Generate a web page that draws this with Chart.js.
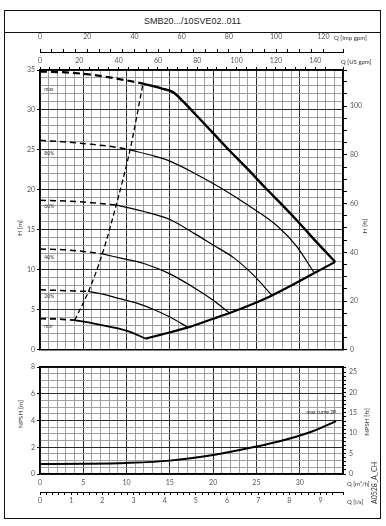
<!DOCTYPE html>
<html>
<head>
<meta charset="utf-8">
<script src="https://cdn.jsdelivr.net/npm/chart.js@4.4.0/dist/chart.umd.min.js"></script>
<style>
  html, body { margin: 0; padding: 0; background: #fff; }
  #wrap { position: relative; width: 386px; height: 526px; overflow: hidden; font-family: "Liberation Sans", Arial, sans-serif; }
  #frame { position: absolute; left: 4px; top: 10px; width: 377px; height: 509px; border: 1px solid #111; box-sizing: border-box; }
  #title { position: absolute; left: 4px; top: 10px; width: 377px; height: 23px; border-bottom: 1px solid #111; box-sizing: border-box;
           text-align: center; font-size: 9px; line-height: 22px; color: #222; }
  canvas { position: absolute; left: 0; }
  #cMain { top: 33px; }
  #cNpsh { top: 358px; }
  .t { position: absolute; white-space: nowrap; color: #333; line-height: 1; font-family: Lato, "Liberation Sans", sans-serif; }
  .r { transform: translate(-50%, -50%) rotate(-90deg); }
  .l { transform: translateY(-50%); }
</style>
</head>
<body>
<div id="wrap">
  <div id="frame"></div>
  <div id="title">SMB20.../10SVE02..011</div>
  <canvas id="cMain" width="386" height="324"></canvas>
  <canvas id="cNpsh" width="386" height="160"></canvas>

  <div class="t l" style="left:334px;top:38px;font-size:6px">Q [Imp gpm]</div>
  <div class="t l" style="left:341px;top:62px;font-size:6px">Q [US gpm]</div>
  <div class="t r" style="left:20px;top:228px;font-size:6.5px">H [m]</div>
  <div class="t r" style="left:365px;top:226px;font-size:6.5px">H [ft]</div>
  <div class="t r" style="left:21px;top:414px;font-size:6.5px">NPSH [m]</div>
  <div class="t r" style="left:367px;top:422px;font-size:6.5px">NPSH [ft]</div>
  <div class="t l" style="left:347px;top:484px;font-size:6px">Q [m³/h]</div>
  <div class="t l" style="left:347px;top:502px;font-size:6px">Q [l/s]</div>
  <div class="t r" style="left:374px;top:483px;font-size:7px">A0528_A_CH</div>
</div>

<script>
// Q in m3/h, H in m
const maxDashQ = [0, 3, 6, 9, 11.9];
const maxDashH = [34.8, 34.7, 34.4, 33.9, 33.3];
const maxQ = [11.9, 14, 15.4, 16.5, 18, 20, 22, 24, 26, 28, 30, 32, 34.1];
const maxH = [33.3, 32.7, 32.2, 31.1, 29.4, 27.1, 24.8, 22.6, 20.3, 18.1, 15.8, 13.4, 11.0];

const p80DashQ = [0, 3, 6, 9, 10.4];
const p80DashH = [26.2, 26.0, 25.7, 25.3, 25.0];
const p80Q = [10.4, 13, 15, 18, 20.8, 24, 27.5, 29.6, 31.7];
const p80H = [25.0, 24.3, 23.6, 22.0, 20.3, 18.1, 15.4, 13.0, 9.6];

const p60DashQ = [0, 3, 6, 8.8];
const p60DashH = [18.7, 18.6, 18.4, 18.1];
const p60Q = [8.8, 12, 15, 17.9, 20, 22.4, 24.6, 26.8];
const p60H = [18.1, 17.3, 16.3, 14.5, 13.1, 11.5, 9.4, 6.8];

const p40DashQ = [0, 3, 5, 7.2];
const p40DashH = [12.6, 12.5, 12.3, 12.0];
const p40Q = [7.2, 9.2, 12, 15, 17.9, 20, 21.9];
const p40H = [12.0, 11.5, 10.8, 9.5, 7.7, 6.2, 4.6];

const p20DashQ = [0, 3, 5.6];
const p20DashH = [7.5, 7.4, 7.3];
const p20Q = [5.6, 7.5, 9.2, 11, 13, 15, 17.1];
const p20H = [7.3, 6.9, 6.4, 5.9, 5.1, 4.1, 2.8];

const minDashQ = [0, 2, 4.0];
const minDashH = [3.9, 3.85, 3.7];
const minQ = [4.0, 6, 8, 10.4, 12.2];
const minH = [3.7, 3.35, 2.9, 2.25, 1.4];

// lower limit line and the dashed limit through the curve ends
const lowQ = [12.2, 14, 17.1, 19.5, 21.9, 24.5, 26.8, 29.3, 31.7, 34.1];
const lowH = [1.4, 1.9, 2.8, 3.7, 4.6, 5.7, 6.8, 8.2, 9.6, 11.0];
const limQ = [4.0, 5.6, 7.2, 8.8, 10.4, 11.9];
const limH = [3.7, 7.3, 12.0, 18.1, 25.0, 33.3];

// NPSH, m
const npshQ = [0, 5, 10, 15, 20, 25, 28, 31.5, 34.2];
const npshM = [0.75, 0.77, 0.83, 1.0, 1.42, 2.05, 2.5, 3.2, 3.95];

const curveNames = ['max', '80%', '60%', '40%', '20%', 'min'];
const curveNameH = [32.6, 24.6, 17.9, 11.5, 6.7, 2.9];

const qMax = 35, hMax = 35, npshMax = 8;
const impPerM3h = 3.6662, usPerM3h = 4.4029, lsPerM3h = 1 / 3.6, ftPerM = 3.2808;

const tickFont = { family: 'Lato, "Liberation Sans", sans-serif', size: 7 };
const tickColor = '#555';

function pts(q, h) { return q.map((v, i) => ({ x: v, y: h[i] })); }
function curve(q, h, w, dash, xId, yId) {
  return {
    data: pts(q, h), showLine: true, borderColor: '#000', backgroundColor: '#000',
    borderWidth: w, borderDash: dash || [], pointRadius: 0, pointHoverRadius: 0,
    cubicInterpolationMode: 'monotone', fill: false, xAxisID: xId, yAxisID: yId
  };
}
function every(v, n) { const k = v / n; return Math.abs(k - Math.round(k)) < 1e-6; }
function fix(size) { return s => { if (s.isHorizontal()) s.height = size; else s.width = size; }; }
const gridCol = n => c => (c.tick && every(c.tick.value, n)) ? '#2a2a2a' : '#a0a0a0';

const curveLabels = {
  id: 'curveLabels',
  afterDatasetsDraw(chart) {
    const ctx = chart.ctx, x = chart.scales.q, y = chart.scales.h;
    ctx.save();
    ctx.font = '5px Lato, "Liberation Sans", sans-serif';
    ctx.fillStyle = '#333';
    ctx.textBaseline = 'middle';
    curveNames.forEach((n, i) => ctx.fillText(n, x.getPixelForValue(0.5), y.getPixelForValue(curveNameH[i])));
    ctx.restore();
  }
};

new Chart(document.getElementById('cMain'), {
  type: 'scatter',
  data: {
    datasets: [
      curve(maxDashQ, maxDashH, 2.2, [7, 4], 'q', 'h'),
      curve(maxQ, maxH, 2.4, null, 'q', 'h'),
      curve(p80DashQ, p80DashH, 1.5, [6, 4], 'q', 'h'),
      curve(p80Q, p80H, 1.2, null, 'q', 'h'),
      curve(p60DashQ, p60DashH, 1.5, [6, 4], 'q', 'h'),
      curve(p60Q, p60H, 1.2, null, 'q', 'h'),
      curve(p40DashQ, p40DashH, 1.5, [6, 4], 'q', 'h'),
      curve(p40Q, p40H, 1.2, null, 'q', 'h'),
      curve(p20DashQ, p20DashH, 1.5, [6, 4], 'q', 'h'),
      curve(p20Q, p20H, 1.2, null, 'q', 'h'),
      curve(minDashQ, minDashH, 1.8, [6, 4], 'q', 'h'),
      curve(minQ, minH, 1.8, null, 'q', 'h'),
      curve(lowQ, lowH, 2.2, null, 'q', 'h'),
      curve(limQ, limH, 1.3, [5, 3], 'q', 'h')
    ]
  },
  plugins: [curveLabels],
  options: {
    responsive: false,
    animation: false,
    events: [],
    layout: { padding: 0, autoPadding: false },
    plugins: { legend: { display: false }, tooltip: { enabled: false } },
    scales: {
      q: {
        type: 'linear', axis: 'x', position: 'bottom', min: 0, max: qMax,
        ticks: { stepSize: 1, display: false, autoSkip: false },
        grid: { color: gridCol(5), drawTicks: false },
        border: { color: '#000', width: 1.5 },
        afterFit: fix(2)
      },
      imp: {
        type: 'linear', axis: 'x', position: 'top', weight: 1, min: 0, max: qMax * impPerM3h,
        ticks: { stepSize: 5, autoSkip: false, maxRotation: 0, padding: 8, font: tickFont, color: tickColor,
                 callback: v => every(v, 20) ? v : '' },
        grid: { drawOnChartArea: false, tickLength: 3, color: '#000' },
        border: { color: '#000', width: 1 },
        afterFit: fix(19)
      },
      us: {
        type: 'linear', axis: 'x', position: 'top', weight: 0, min: 0, max: qMax * usPerM3h,
        ticks: { stepSize: 5, autoSkip: false, maxRotation: 0, padding: 2, font: tickFont, color: tickColor,
                 callback: v => every(v, 20) ? v : '' },
        grid: { drawOnChartArea: false, tickLength: 3, color: '#000' },
        border: { color: '#000', width: 1.5 },
        afterFit: fix(18)
      },
      h: {
        type: 'linear', axis: 'y', position: 'left', min: 0, max: hMax,
        ticks: { stepSize: 1, autoSkip: false, padding: 2, font: tickFont, color: tickColor,
                 callback: v => every(v, 5) ? v : '' },
        grid: { color: gridCol(5), tickLength: 3,
                tickColor: c => (c.tick && every(c.tick.value, 5)) ? '#000' : 'rgba(0,0,0,0)' },
        border: { color: '#000', width: 1.5 },
        afterFit: fix(40)
      },
      ft: {
        type: 'linear', axis: 'y', position: 'right', min: 0, max: hMax * ftPerM,
        ticks: { stepSize: 5, autoSkip: false, padding: 3, font: tickFont, color: tickColor,
                 callback: v => every(v, 20) ? v : '' },
        grid: { drawOnChartArea: false, tickLength: 4, color: '#000' },
        border: { color: '#000', width: 1.5 },
        afterFit: fix(43)
      }
    }
  }
});

const npshLabel = {
  id: 'npshLabel',
  afterDatasetsDraw(chart) {
    const ctx = chart.ctx, x = chart.scales.qm, y = chart.scales.nh;
    ctx.save();
    ctx.font = '5px Lato, "Liberation Sans", sans-serif';
    ctx.fillStyle = '#222';
    ctx.textAlign = 'right';
    ctx.textBaseline = 'middle';
    ctx.fillText('max curve 2P', x.getPixelForValue(34.2), y.getPixelForValue(4.6));
    ctx.restore();
  }
};

new Chart(document.getElementById('cNpsh'), {
  type: 'scatter',
  data: {
    datasets: [curve(npshQ, npshM, 2, null, 'qm', 'nh')]
  },
  plugins: [npshLabel],
  options: {
    responsive: false,
    animation: false,
    events: [],
    layout: { padding: { top: 9, left: 0, right: 0, bottom: 0 }, autoPadding: false },
    plugins: { legend: { display: false }, tooltip: { enabled: false } },
    scales: {
      qm: {
        type: 'linear', axis: 'x', position: 'bottom', weight: 0, min: 0, max: qMax,
        ticks: { stepSize: 1, autoSkip: false, maxRotation: 0, padding: 5, font: tickFont, color: tickColor,
                 callback: v => (every(v, 5) && v < qMax) ? v : '' },
        grid: { color: gridCol(5), drawTicks: false },
        border: { color: '#000', width: 1.5 },
        afterFit: fix(18)
      },
      ls: {
        type: 'linear', axis: 'x', position: 'bottom', weight: 1, min: 0, max: qMax * lsPerM3h,
        ticks: { stepSize: 0.2, autoSkip: false, maxRotation: 0, padding: 2, font: tickFont, color: tickColor,
                 callback: v => (every(v, 1) && v <= 9) ? Math.round(v) : '' },
        grid: { drawOnChartArea: false, tickLength: 3, color: '#000' },
        border: { color: '#000', width: 1 },
        afterFit: fix(26)
      },
      ntop: {
        type: 'linear', axis: 'x', position: 'top', min: 0, max: qMax,
        ticks: { display: false },
        grid: { drawOnChartArea: false, drawTicks: false },
        border: { color: '#000', width: 1.5 },
        afterFit: fix(0)
      },
      nh: {
        type: 'linear', axis: 'y', position: 'left', min: 0, max: npshMax,
        ticks: { stepSize: 0.5, autoSkip: false, padding: 2, font: tickFont, color: tickColor,
                 callback: v => every(v, 2) ? v : '' },
        grid: { color: gridCol(2), tickLength: 3,
                tickColor: c => (c.tick && every(c.tick.value, 2)) ? '#000' : 'rgba(0,0,0,0)' },
        border: { color: '#000', width: 1.5 },
        afterFit: fix(40)
      },
      nft: {
        type: 'linear', axis: 'y', position: 'right', min: 0, max: npshMax * ftPerM,
        ticks: { stepSize: 1, autoSkip: false, padding: 3, font: tickFont, color: tickColor,
                 callback: v => every(v, 5) ? v : '' },
        grid: { drawOnChartArea: false, tickLength: 3, color: '#000' },
        border: { color: '#000', width: 1.5 },
        afterFit: fix(43)
      }
    }
  }
});
</script>
</body>
</html>
